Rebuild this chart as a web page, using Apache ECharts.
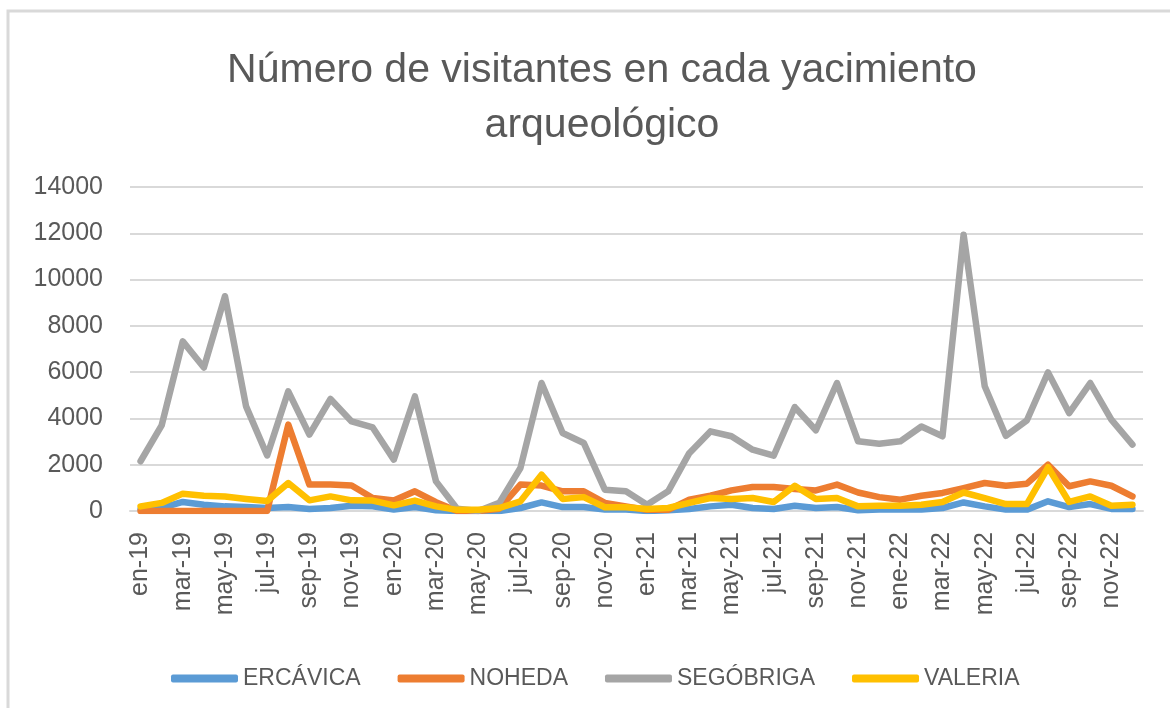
<!DOCTYPE html>
<html>
<head>
<meta charset="utf-8">
<script src="https://cdn.jsdelivr.net/npm/echarts@6/dist/echarts.min.js"></script>
<style>html,body{margin:0;padding:0;background:#fff}#c{width:1170px;height:708px}</style>
</head>
<body>
<div id="c"></div>
<script>
const months = ['en-19','feb-19','mar-19','abr-19','may-19','jun-19','jul-19','ago-19','sep-19','oct-19','nov-19','dic-19',
  'en-20','feb-20','mar-20','abr-20','may-20','jun-20','jul-20','ago-20','sep-20','oct-20','nov-20','dic-20',
  'en-21','feb-21','mar-21','abr-21','may-21','jun-21','jul-21','ago-21','sep-21','oct-21','nov-21','dic-21',
  'ene-22','feb-22','mar-22','abr-22','may-22','jun-22','jul-22','ago-22','sep-22','oct-22','nov-22','dic-22'];
const seriesNames = ['ERCÁVICA','NOHEDA','SEGÓBRIGA','VALERIA'];
const ercavica = [80,130,390,270,200,170,130,170,90,130,230,200,60,170,30,0,0,0,130,370,170,170,60,60,0,30,90,200,270,130,90,230,130,170,30,60,60,60,130,370,200,60,60,420,170,300,90,90];
const noheda = [0,0,0,0,0,0,0,3730,1140,1140,1100,560,450,850,380,0,0,100,1140,1100,850,850,350,200,50,50,490,660,890,1040,1040,950,890,1140,800,600,490,660,780,990,1210,1090,1180,2000,1070,1280,1090,630];
const segobriga = [2150,3700,7330,6200,9280,4520,2400,5170,3300,4840,3870,3610,2220,4950,1280,100,0,350,1860,5530,3370,2940,920,850,270,850,2500,3440,3230,2650,2390,4490,3490,5530,3010,2910,3010,3650,3230,11940,5390,3250,3920,5990,4230,5530,3950,2870];
const valeria = [200,350,750,660,630,520,430,1210,460,630,460,450,245,450,200,50,50,130,420,1570,520,600,160,160,90,130,350,560,520,560,390,1090,520,560,200,230,230,270,390,800,560,300,300,1890,390,630,230,270];
const colors = ['#5B9BD5','#ED7D31','#A5A5A5','#FFC000'];
const values = [ercavica, noheda, segobriga, valeria];

const chart = echarts.init(document.getElementById('c'), null, {renderer:'canvas'});
const font = 'Liberation Sans, Arial, sans-serif';
chart.setOption({
  animation: false,
  backgroundColor: '#fff',
  graphic: [{type:'rect', shape:{x:8,y:11,width:1200,height:760}, style:{fill:'none', stroke:'#D9D9D9', lineWidth:3}}],
  title: {
    text: 'Número de visitantes en cada yacimiento\narqueológico',
    left: 597, top: 38, textAlign: 'center',
    textStyle: {fontFamily: font, fontSize: 41, fontWeight: 'normal', color: '#595959', lineHeight: 55}
  },
  legend: {
    left: 166, top: 662, itemWidth: 67, itemHeight: 8, itemGap: 37,
    icon: 'roundRect',
    textStyle: {fontFamily: font, fontSize: 23, color: '#595959'},
    data: seriesNames
  },
  grid: {left: 130, right: 27, top: 187, bottom: 197, containLabel: false},
  xAxis: {
    type: 'category', data: months, boundaryGap: true,
    axisLine: {lineStyle: {color: '#D9D9D9', width: 2}},
    axisTick: {show: false},
    axisLabel: {rotate: 90, interval: 1, margin: 21, fontFamily: font, fontSize: 25, color: '#595959'}
  },
  yAxis: {
    type: 'value', min: 0, max: 14000, interval: 2000,
    axisLine: {show: false}, axisTick: {show: false},
    splitLine: {lineStyle: {color: '#D9D9D9', width: 2}},
    axisLabel: {margin: 27, fontFamily: font, fontSize: 25, color: '#595959', formatter: v => String(v)}
  },
  series: seriesNames.map((n,i) => ({
    name: n, type: 'line', data: values[i], symbol: 'none',
    lineStyle: {color: colors[i], width: 6.5, join: 'round', cap: 'round'},
    itemStyle: {color: colors[i]}
  }))
});
</script>
</body>
</html>
